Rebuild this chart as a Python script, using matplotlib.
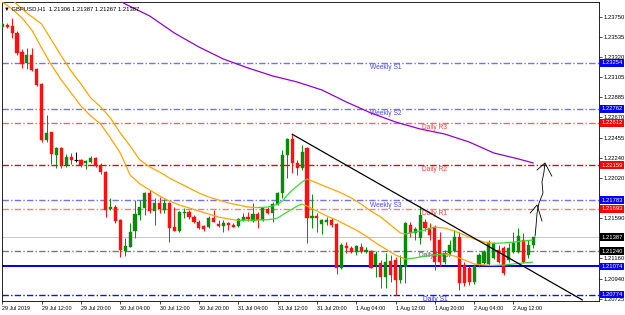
import matplotlib
matplotlib.use("Agg")
import matplotlib.pyplot as plt
import matplotlib.transforms as mtransforms
import numpy as np
from matplotlib.collections import LineCollection
from matplotlib.patches import Rectangle


# GBPUSD H1 candles, 29 Jul 04:00 .. 2 Aug 16:00
OPENS = [
    1.23639, 1.23660, 1.23650, 1.23575, 1.23371, 1.23250, 1.23339, 1.23186, 1.23029, 1.22429,
    1.22515, 1.22268, 1.22347, 1.22161, 1.22250, 1.22215, 1.22215, 1.22183, 1.22190, 1.22233,
    1.22161, 1.22090, 1.21686, 1.21714, 1.21572, 1.21243, 1.21286, 1.21458, 1.21626, 1.21697,
    1.21864, 1.21672, 1.21751, 1.21679, 1.21758, 1.21497, 1.21458, 1.21643, 1.21661, 1.21608,
    1.21554, 1.21508, 1.21494, 1.21590, 1.21526, 1.21508, 1.21536, 1.21518, 1.21508, 1.21572,
    1.21608, 1.21565, 1.21636, 1.21572, 1.21686, 1.21650, 1.21743, 1.21858, 1.22268, 1.22440,
    1.22179, 1.22126, 1.22343, 1.21597, 1.21618, 1.21526, 1.21547, 1.21572, 1.21526, 1.21061,
    1.21297, 1.21276, 1.21226, 1.21286, 1.21226, 1.21240, 1.21090, 1.21108, 1.20965, 1.21133,
    1.21144, 1.20930, 1.21072, 1.21518, 1.21429, 1.21379, 1.21554, 1.21486, 1.21497, 1.21358,
    1.21122, 1.21219, 1.21240, 1.21390, 1.21090, 1.21058, 1.20908, 1.21090, 1.21112, 1.21101,
    1.21165, 1.21251, 1.21272, 1.21144, 1.21229, 1.21229, 1.21358, 1.21197, 1.21306,
]
HIGHS = [
    1.23693, 1.23682, 1.23735, 1.23596, 1.23400, 1.23411, 1.23411, 1.23200, 1.23036, 1.22697,
    1.22515, 1.22358, 1.22358, 1.22279, 1.22286, 1.22297, 1.22225, 1.22215, 1.22258, 1.22244,
    1.22179, 1.22100, 1.21811, 1.21733, 1.21579, 1.21376, 1.21543, 1.21786, 1.21786, 1.21875,
    1.21893, 1.21804, 1.21822, 1.21793, 1.21765, 1.21714, 1.21672, 1.21697, 1.21679, 1.21626,
    1.21572, 1.21518, 1.21615, 1.21679, 1.21572, 1.21572, 1.21554, 1.21536, 1.21590, 1.21643,
    1.21661, 1.21751, 1.21661, 1.21714, 1.21714, 1.21768, 1.21875, 1.22322, 1.22447, 1.22490,
    1.22215, 1.22376, 1.22358, 1.21847, 1.21643, 1.21583, 1.21608, 1.21590, 1.21536, 1.21322,
    1.21340, 1.21297, 1.21304, 1.21322, 1.21286, 1.21251, 1.21240, 1.21144, 1.21215, 1.21197,
    1.21179, 1.21197, 1.21550, 1.21554, 1.21500, 1.21722, 1.21583, 1.21540, 1.21518, 1.21443,
    1.21251, 1.21358, 1.21465, 1.21443, 1.21122, 1.21079, 1.21101, 1.21219, 1.21251, 1.21358,
    1.21336, 1.21304, 1.21294, 1.21326, 1.21443, 1.21486, 1.21433, 1.21358, 1.21387,
]
LOWS = [
    1.23628, 1.23628, 1.23521, 1.23339, 1.23197, 1.23186, 1.23164, 1.23007, 1.22411, 1.22411,
    1.22172, 1.22132, 1.22129, 1.22140, 1.22172, 1.22197, 1.22143, 1.22115, 1.22183, 1.22143,
    1.22065, 1.21608, 1.21679, 1.21536, 1.21179, 1.21186, 1.21280, 1.21376, 1.21572, 1.21626,
    1.21643, 1.21518, 1.21643, 1.21643, 1.21340, 1.21454, 1.21447, 1.21590, 1.21579, 1.21536,
    1.21472, 1.21458, 1.21483, 1.21554, 1.21494, 1.21447, 1.21465, 1.21494, 1.21500, 1.21565,
    1.21565, 1.21554, 1.21483, 1.21561, 1.21636, 1.21554, 1.21733, 1.21808, 1.22022, 1.22072,
    1.22054, 1.22108, 1.21322, 1.21483, 1.21447, 1.21419, 1.21518, 1.21500, 1.20990, 1.21047,
    1.21215, 1.21215, 1.21194, 1.21215, 1.21215, 1.21054, 1.20965, 1.20840, 1.20847, 1.20908,
    1.20769, 1.20894, 1.20894, 1.21393, 1.21358, 1.21315, 1.21454, 1.21358, 1.21037, 1.21079,
    1.21101, 1.21197, 1.21229, 1.20823, 1.20865, 1.20876, 1.20887, 1.21069, 1.21101, 1.21090,
    1.21154, 1.21112, 1.20983, 1.21122, 1.21219, 1.21219, 1.21112, 1.21165, 1.21267,
]
CLOSES = [
    1.23671, 1.23639, 1.23575, 1.23364, 1.23243, 1.23339, 1.23179, 1.23018, 1.22429, 1.22507,
    1.22276, 1.22347, 1.22154, 1.22250, 1.22215, 1.22215, 1.22161, 1.22207, 1.22240, 1.22151,
    1.22086, 1.21679, 1.21708, 1.21564, 1.21251, 1.21293, 1.21447, 1.21636, 1.21714, 1.21864,
    1.21668, 1.21751, 1.21686, 1.21751, 1.21490, 1.21458, 1.21661, 1.21661, 1.21608, 1.21554,
    1.21483, 1.21472, 1.21590, 1.21554, 1.21508, 1.21536, 1.21518, 1.21500, 1.21579, 1.21601,
    1.21579, 1.21636, 1.21572, 1.21697, 1.21643, 1.21743, 1.21864, 1.22268, 1.22440, 1.22179,
    1.22126, 1.22297, 1.21597, 1.21618, 1.21590, 1.21572, 1.21572, 1.21518, 1.21061, 1.21304,
    1.21269, 1.21233, 1.21297, 1.21240, 1.21251, 1.21061, 1.21205, 1.20965, 1.21126, 1.20983,
    1.20930, 1.21072, 1.21536, 1.21429, 1.21476, 1.21626, 1.21483, 1.21411, 1.21122, 1.21122,
    1.21219, 1.21304, 1.21390, 1.20897, 1.20897, 1.20908, 1.21079, 1.21197, 1.21229, 1.21336,
    1.21326, 1.21122, 1.21004, 1.21272, 1.21326, 1.21401, 1.21122, 1.21304, 1.21387,
]

# upper / lower band lines (green while rising, orange while falling)
UPPER_BARS = [0, 2, 5, 8, 10, 12, 14, 16, 18, 20, 22, 24, 26, 28, 30, 32, 34, 36, 38, 40,
              42, 44, 46, 48, 50, 52, 54, 55, 56, 57, 58, 59, 60, 61, 62, 63, 65, 67, 69, 71,
              73, 75, 77, 79, 81, 82, 84, 86, 88, 90, 92, 94, 96, 98, 100, 102, 104, 106, 108]
UPPER = [1.24014, 1.23928, 1.23789, 1.23671, 1.23500, 1.23329, 1.23168, 1.23029, 1.22879, 1.22783,
         1.22665, 1.22504, 1.22365, 1.22215, 1.22140, 1.22086, 1.22022, 1.21968, 1.21915, 1.21861,
         1.21818, 1.21786, 1.21754, 1.21733, 1.21711, 1.21705, 1.21711, 1.21722, 1.21743, 1.21775,
         1.21840, 1.21893, 1.21936, 1.21979, 1.22011, 1.21990, 1.21947, 1.21904, 1.21861, 1.21808,
         1.21743, 1.21668, 1.21604, 1.21518, 1.21433, 1.21422, 1.21444, 1.21465, 1.21497, 1.21486,
         1.21454, 1.21411, 1.21369, 1.21336, 1.21322, 1.21326, 1.21336, 1.21347, 1.21358]

LOWER_BARS = [0, 2, 4, 6, 8, 10, 12, 14, 16, 18, 20, 22, 24, 26, 28, 30, 32, 34, 36, 38,
              40, 42, 44, 46, 48, 50, 52, 54, 55, 56, 57, 58, 59, 60, 61, 62, 64, 66, 68, 70,
              72, 74, 76, 78, 80, 82, 84, 86, 88, 90, 92, 94, 96, 98, 100, 102, 104, 106, 108]
LOWER = [1.23907, 1.23832, 1.23736, 1.23607, 1.23414, 1.23232, 1.23072, 1.22933, 1.22793, 1.22686,
         1.22601, 1.22451, 1.22290, 1.22054, 1.21958, 1.21893, 1.21829, 1.21775, 1.21733, 1.21701,
         1.21668, 1.21636, 1.21604, 1.21583, 1.21568, 1.21570, 1.21572, 1.21575, 1.21583, 1.21593,
         1.21626, 1.21658, 1.21690, 1.21722, 1.21743, 1.21722, 1.21668, 1.21615, 1.21572, 1.21518,
         1.21465, 1.21401, 1.21326, 1.21261, 1.21197, 1.21154, 1.21165, 1.21186, 1.21197, 1.21208,
         1.21186, 1.21144, 1.21101, 1.21090, 1.21085, 1.21090, 1.21101, 1.21112, 1.21122]

MA_BARS = [22, 24, 25, 30, 35, 40, 45, 50, 55, 60, 65, 70, 75, 80, 85, 90, 95, 100, 105, 108]
MA_SLOW = [1.24003, 1.23918, 1.23886, 1.23757, 1.23575, 1.23425, 1.23296, 1.23200, 1.23115, 1.23050,
           1.22965, 1.22836, 1.22718, 1.22622, 1.22547, 1.22493, 1.22407, 1.22290, 1.22226, 1.22183]

TREND_BARS = [59, 118]
TREND_PRICES = [1.22490, 1.20716]

# hand-drawn arrows
STEM_BARS = [108.4, 108.6, 108.8, 109.2, 110.0, 109.8, 110.2, 110.4]
STEM_PRICES = [1.21401, 1.21518, 1.21647, 1.21754, 1.21861, 1.21979, 1.22086, 1.22172]
HEAD_TOP_BARS = [108.8, 110.4, 111.8]
HEAD_TOP_PRICES = [1.22108, 1.22183, 1.22043]
HEAD_LOW_BARS = [107.4, 108.8, 109.8]
HEAD_LOW_PRICES = [1.21647, 1.21733, 1.21561]

LEVEL_NAMES = ["Weekly S1", "Weekly S2", "Daily R3", "Daily R2", "Weekly S3",
               "Daily R1", "Daily Pivot", "Daily S1"]
LEVEL_PRICES = [1.23254, 1.22762, 1.22612, 1.22159, 1.21783, 1.21693, 1.21240, 1.20774]
LEVEL_COLORS = ["#7272ff", "#7272ff", "#ff6464", "#f00000", "#7272ff",
                "#ff7a7a", "#7a7a7a", "#1010ff"]
LEVEL_TEXT = ["#4b4bff", "#4b4bff", "#ff4040", "#ff4040", "#4b4bff",
              "#ff4040", "#505050", "#3030ff"]
LEVEL_BOX = ["#0000ff", "#0000ff", "#ff0000", "#ff0000", "#0000ff",
             "#ff0000", "#000000", "#0000ff"]
LEVEL_LABEL_BAR = [78, 78, 88, 88, 78, 88, 88, 88]

PRICE_LINE = 1.21387
SUPPORT_LINE = 1.21074

Y_TICKS = [1.23750, 1.23535, 1.23320, 1.23105, 1.22885, 1.22670, 1.22455, 1.22240,
           1.22020, 1.21590, 1.21160, 1.20940, 1.20725]
X_TICK_LABELS = ["29 Jul 2019", "29 Jul 12:00", "29 Jul 20:00", "30 Jul 04:00",
                 "30 Jul 12:00", "30 Jul 20:00", "31 Jul 04:00", "31 Jul 12:00",
                 "31 Jul 20:00", "1 Aug 04:00", "1 Aug 12:00", "1 Aug 20:00",
                 "2 Aug 04:00", "2 Aug 12:00"]

BULL = "#0a8a0a"
BEAR = "#ff1010"
UP_COL = "#33dd33"
DOWN_COL = "#ffa500"
DASHDOT = (0, (4.6, 1.6, 1.0, 1.6))
FS = 4.2


def band(ax, bars, vals):
    pts = np.column_stack([bars, vals])
    segs = np.stack([pts[:-1], pts[1:]], axis=1)
    cols = [UP_COL if b > a else DOWN_COL for a, b in zip(vals[:-1], vals[1:])]
    ax.add_collection(LineCollection(segs, colors=cols, linewidths=0.9, zorder=4))


def main():
    plt.rcParams["font.family"] = ["Liberation Sans", "DejaVu Sans"]
    fig = plt.figure(figsize=(6.25, 3.15), dpi=100)
    ax = fig.add_axes([2 / 625, 14 / 315, 597 / 625, 299 / 315])
    ax.set_xlim(-0.06, 121.4)
    ax.set_ylim(1.207045, 1.239068)

    # horizontal levels
    for name, price, col, tcol, lbar in zip(LEVEL_NAMES, LEVEL_PRICES, LEVEL_COLORS,
                                             LEVEL_TEXT, LEVEL_LABEL_BAR):
        ax.axhline(price, color=col, lw=1.0, linestyle=DASHDOT, zorder=1)
        ax.annotate(name, xy=(lbar, price), xytext=(0, -0.9), textcoords="offset points",
                    ha="center", va="top", fontsize=4.8, color=tcol, zorder=2)
    ax.axhline(PRICE_LINE, color="#c8c8c8", lw=0.72, zorder=1).set_snap(True)
    ax.axhline(SUPPORT_LINE, color="#0000ff", lw=1.45, zorder=2).set_snap(True)

    # candles
    x = np.arange(len(OPENS))
    for i, o, h, l, c in zip(x, OPENS, HIGHS, LOWS, CLOSES):
        col = BULL if c > o else (BEAR if c < o else "black")
        ax.vlines(i, l, h, color=col, lw=0.7, zorder=3)
        if c == o:
            ax.hlines(o, i - 0.32, i + 0.32, color=col, lw=0.8, zorder=3)
        else:
            ax.add_patch(Rectangle((i - 0.32, min(o, c)), 0.64, abs(c - o),
                                   facecolor=col, edgecolor=col, lw=0.3, zorder=3))

    band(ax, UPPER_BARS, UPPER)
    band(ax, LOWER_BARS, LOWER)
    ax.plot(MA_BARS, MA_SLOW, color="#9400d3", lw=0.9, zorder=4)
    ax.plot(TREND_BARS, TREND_PRICES, color="black", lw=0.9, zorder=5)

    for bx, py in [(STEM_BARS, STEM_PRICES), (HEAD_TOP_BARS, HEAD_TOP_PRICES),
                   (HEAD_LOW_BARS, HEAD_LOW_PRICES)]:
        ax.plot(bx, py, color="black", lw=0.6, zorder=5)

    # axes, ticks
    for s in ax.spines.values():
        s.set_linewidth(0.6)
        s.set_color("black")
    ax.yaxis.tick_right()
    ax.set_yticks(Y_TICKS)
    ax.set_yticklabels([f"{t:.5f}" for t in Y_TICKS])
    ax.set_xticks(np.arange(len(X_TICK_LABELS)) * 8)
    ax.set_xticklabels(X_TICK_LABELS, ha="left")
    ax.tick_params(axis="y", length=2, width=0.5, pad=1.0, labelsize=FS)
    ax.tick_params(axis="x", length=2, width=0.5, pad=1.5, labelsize=3.9)

    # price boxes on the scale
    trans = mtransforms.blended_transform_factory(ax.transAxes, ax.transData)
    boxes = list(zip(LEVEL_PRICES, LEVEL_BOX))
    boxes += [(PRICE_LINE, "#000000"), (SUPPORT_LINE, "#0000ff")]
    for price, bcol in boxes:
        ax.annotate(f"{price:.5f}", xy=(1, price), xycoords=trans, xytext=(1.6, 0),
                    textcoords="offset points", ha="left", va="center", fontsize=FS,
                    color="white", annotation_clip=False, zorder=6,
                    bbox=dict(boxstyle="square,pad=0.25", fc=bcol, ec="none"))

    fig.text(4 / 625, 1 - 8.3 / 315, "\u25bc GBPUSD,H1  1.21306 1.21387 1.21267 1.21387",
             fontsize=FS, va="center", ha="left")

    fig.savefig("out.png", dpi=100)
    plt.close(fig)


if __name__ == "__main__":
    main()
